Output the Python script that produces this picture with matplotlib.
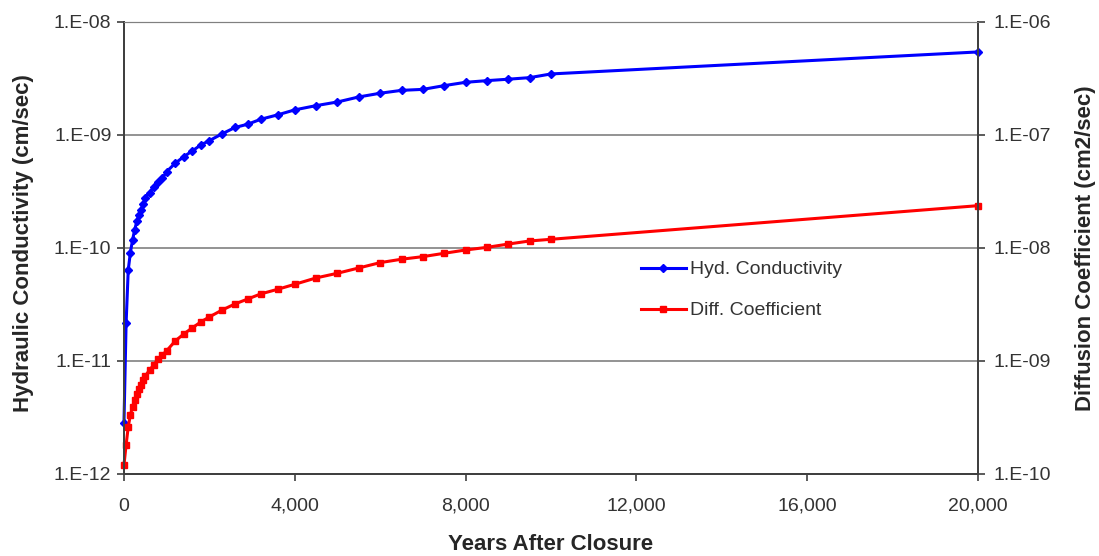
import math
import matplotlib.pyplot as plt
from matplotlib.ticker import FixedLocator, FuncFormatter

plt.rcParams['font.family'] = ['Liberation Sans', 'DejaVu Sans']

# years after closure
years = [0, 50, 100, 150, 200, 250, 300, 350, 400, 450, 500, 600, 700, 800, 900,
         1000, 1200, 1400, 1600, 1800, 2000, 2300, 2600, 2900, 3200, 3600, 4000,
         4500, 5000, 5500, 6000, 6500, 7000, 7500, 8000, 8500, 9000, 9500, 10000,
         20000]

# hydraulic conductivity, cm/sec
hyd_cond = [2.81e-12, 2.15e-11, 6.38e-11, 9.08e-11, 1.17e-10, 1.44e-10, 1.71e-10,
            1.95e-10, 2.16e-10, 2.44e-10, 2.78e-10, 3.08e-10, 3.48e-10, 3.85e-10,
            4.12e-10, 4.72e-10, 5.60e-10, 6.40e-10, 7.19e-10, 8.13e-10, 8.87e-10,
            1.02e-9, 1.16e-9, 1.24e-9, 1.37e-9, 1.50e-9, 1.66e-9, 1.81e-9, 1.95e-9,
            2.16e-9, 2.33e-9, 2.47e-9, 2.52e-9, 2.72e-9, 2.91e-9, 3.01e-9, 3.10e-9,
            3.20e-9, 3.45e-9, 5.40e-9]

# diffusion coefficient, cm2/sec
diff_coef = [1.20e-10, 1.81e-10, 2.61e-10, 3.33e-10, 3.92e-10, 4.52e-10, 5.11e-10,
             5.65e-10, 6.13e-10, 6.79e-10, 7.36e-10, 8.32e-10, 9.22e-10, 1.04e-9,
             1.13e-9, 1.23e-9, 1.50e-9, 1.73e-9, 1.96e-9, 2.21e-9, 2.45e-9, 2.82e-9,
             3.19e-9, 3.53e-9, 3.91e-9, 4.30e-9, 4.76e-9, 5.42e-9, 5.96e-9, 6.64e-9,
             7.40e-9, 7.93e-9, 8.36e-9, 8.95e-9, 9.57e-9, 1.01e-8, 1.08e-8, 1.15e-8,
             1.19e-8, 2.36e-8]

x_ticks = [0, 4000, 8000, 12000, 16000, 20000]
left_ticks = [1e-12, 1e-11, 1e-10, 1e-9, 1e-8]
right_ticks = [1e-10, 1e-9, 1e-8, 1e-7, 1e-6]


def excel_sci(v, pos):
    # Excel-style "1.E-08"
    exp = int(round(math.log10(v)))
    return '1.E-%02d' % -exp if exp < 0 else '1.E+%02d' % exp


fig = plt.figure(figsize=(10.99, 5.56), dpi=100)
ax = fig.add_axes([0.1128, 0.1475, 0.7771, 0.8135])
ax2 = ax.twinx()

l2, = ax2.plot(years, diff_coef, color='#ff0000', lw=2.2, marker='s', ms=5,
               label='Diff. Coefficient', clip_on=False, zorder=2)
l1, = ax.plot(years, hyd_cond, color='#0000ff', lw=2.2, marker='D', ms=4,
              label='Hyd. Conductivity', clip_on=False, zorder=3)

ax.set_yscale('log')
ax2.set_yscale('log')
ax.set_xlim(0, 20000)
ax.set_ylim(1e-12, 1e-8)
ax2.set_ylim(1e-10, 1e-6)

ax.xaxis.set_major_locator(FixedLocator(x_ticks))
ax.xaxis.set_major_formatter(FuncFormatter(lambda v, p: f'{int(v):,}'))
ax.yaxis.set_major_locator(FixedLocator(left_ticks))
ax.yaxis.set_major_formatter(FuncFormatter(excel_sci))
ax.yaxis.set_minor_locator(FixedLocator([]))
ax2.yaxis.set_major_locator(FixedLocator(right_ticks))
ax2.yaxis.set_major_formatter(FuncFormatter(excel_sci))
ax2.yaxis.set_minor_locator(FixedLocator([]))

ax.grid(axis='y', color='#808080', lw=1.2)
ax.set_axisbelow(True)

for a in (ax, ax2):
    a.tick_params(axis='both', labelsize=14, labelcolor='#333333', length=5,
                  width=1.2, color='#404040')
    for side in ('left', 'right', 'bottom'):
        a.spines[side].set_color('#404040')
        a.spines[side].set_linewidth(1.4)
    a.spines['top'].set_color('#808080')
ax.tick_params(axis='x', pad=12)
ax.tick_params(axis='y', pad=4)
ax2.tick_params(axis='y', pad=6)

ax.set_xlabel('Years After Closure', fontsize=16, fontweight='bold', color='#262626',
              labelpad=14)
ax.set_ylabel('Hydraulic Conductivity (cm/sec)', fontsize=16, fontweight='bold',
              color='#262626')
ax2.set_ylabel('Diffusion Coefficient (cm2/sec)', fontsize=16, fontweight='bold',
               color='#262626')
ax.yaxis.set_label_coords(-0.105, 0.51)
ax2.yaxis.set_label_coords(1.113, 0.5)

ax2.legend(handles=[l1, l2], loc='upper left', bbox_to_anchor=(0.585, 0.51),
           frameon=False, fontsize=14, labelcolor='#333333', handlelength=2.3,
           handletextpad=0.2, labelspacing=1.2)

fig.savefig('out.png', dpi=100)
